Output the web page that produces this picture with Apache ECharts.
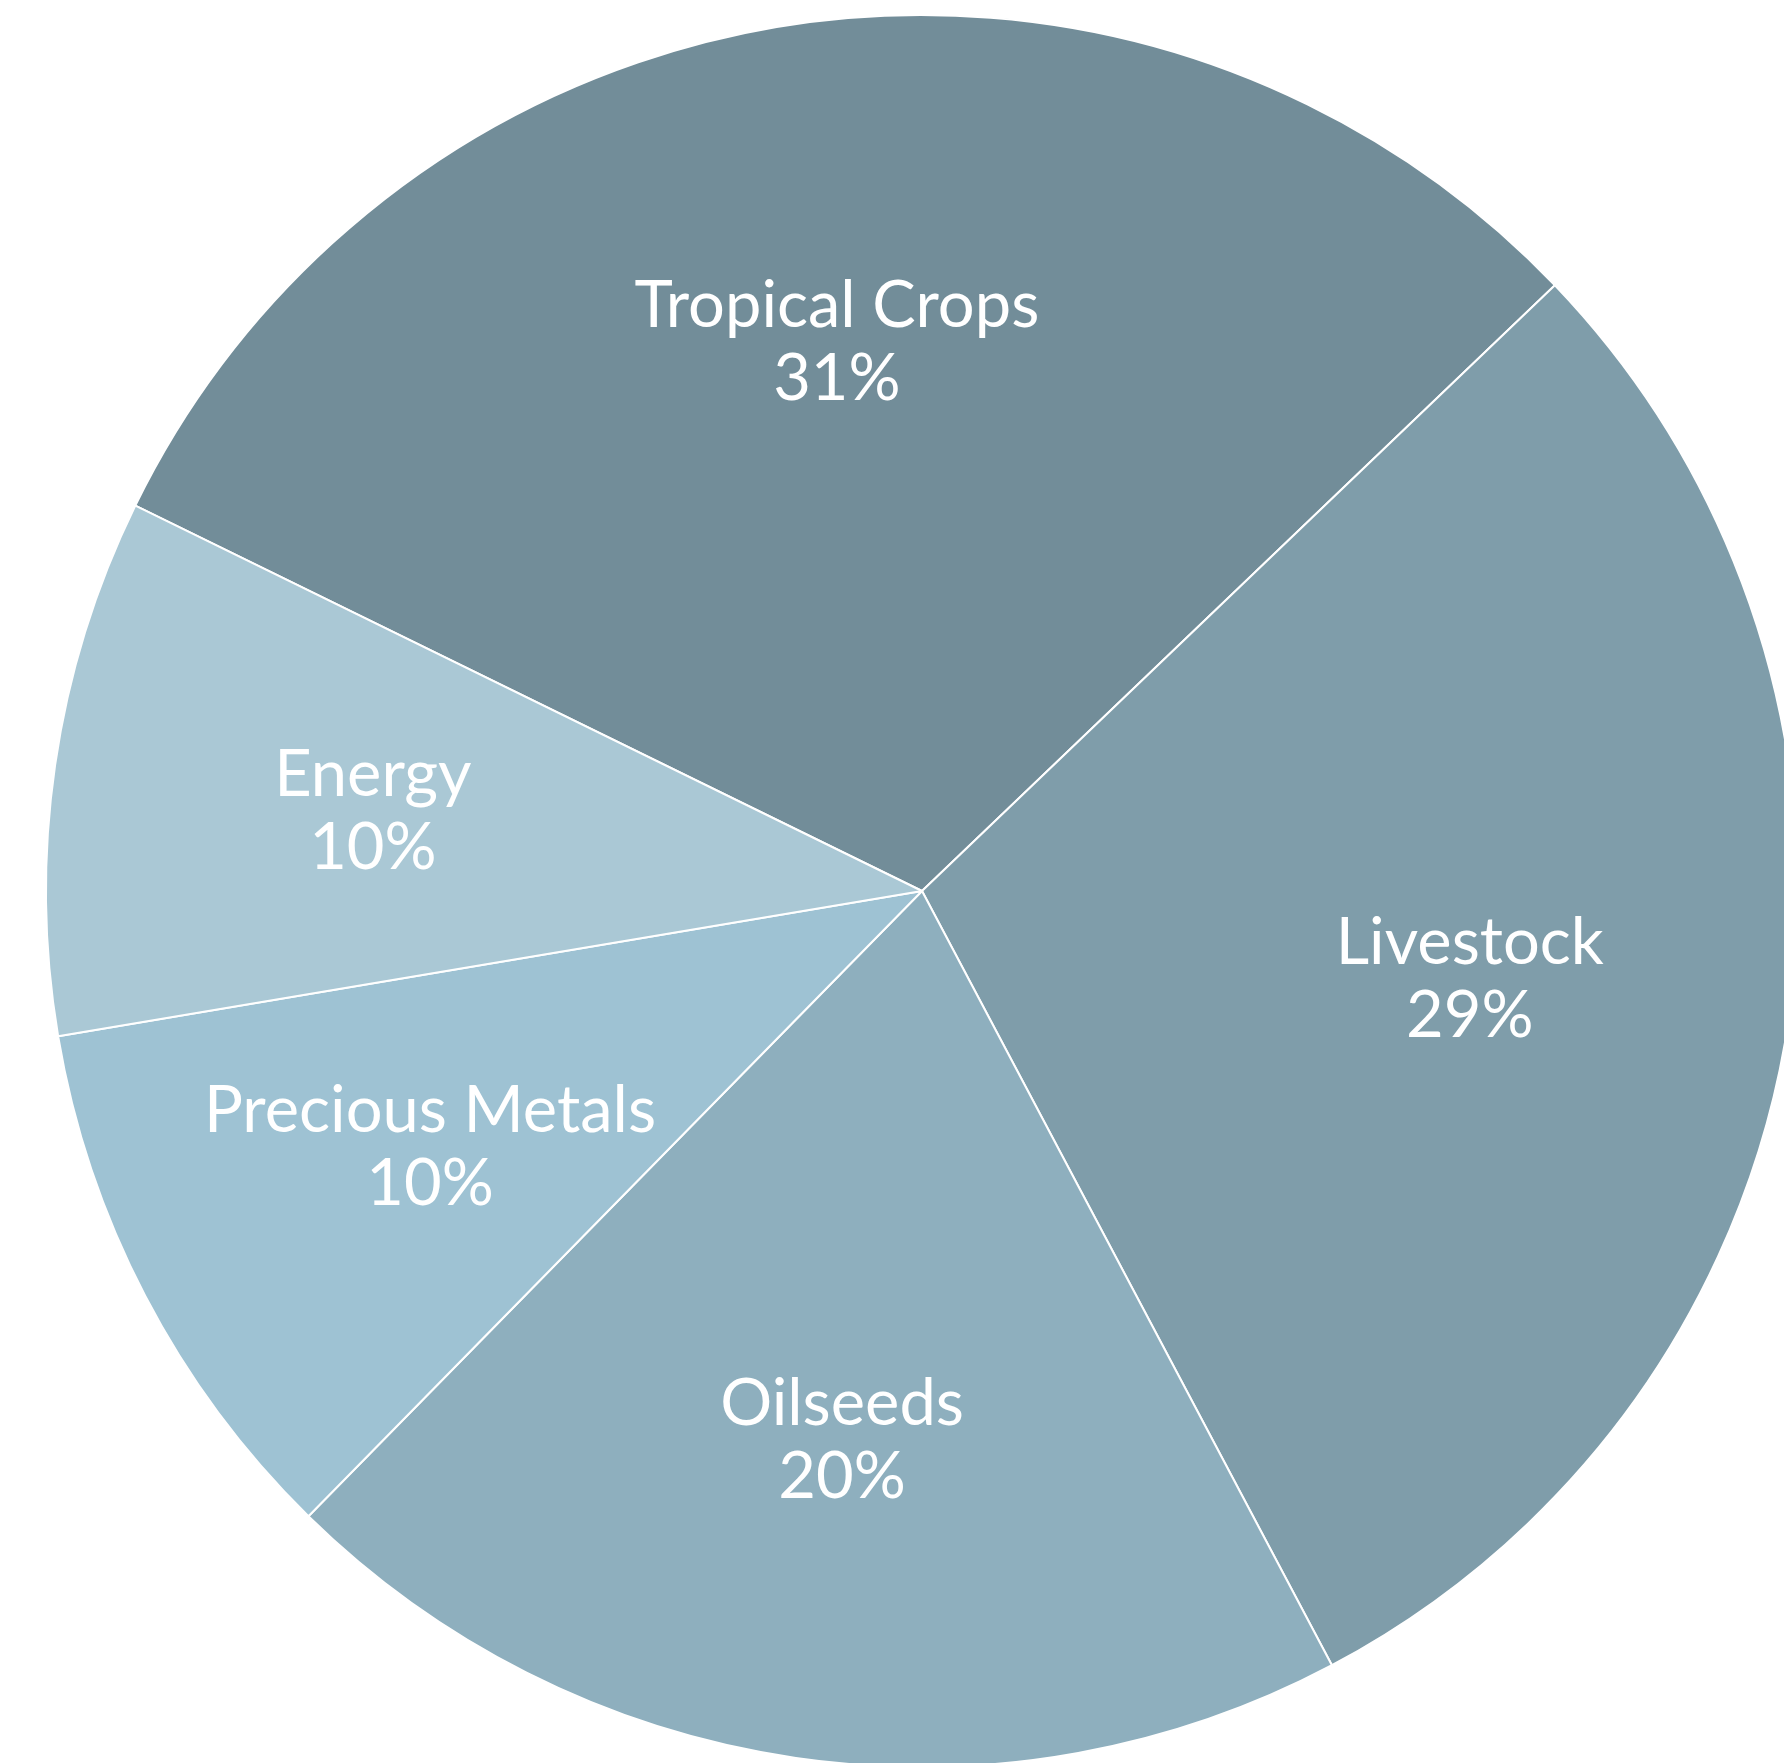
<!DOCTYPE html>
<html>
<head>
<meta charset="utf-8">
<script src="https://cdn.jsdelivr.net/npm/echarts@6/dist/echarts.min.js"></script>
<style>
html,body{margin:0;padding:0;background:#fff;}
#main{width:1784px;height:1763px;}
</style>
</head>
<body>
<div id="main"></div>
<script>
const categories = ['Tropical Crops', 'Livestock', 'Oilseeds', 'Precious Metals', 'Energy'];
const values = [30.6, 29.4, 20.1, 10.0, 9.9];
const colors = ['#728d99', '#7f9daa', '#8eafbe', '#9ec2d3', '#aac8d5'];

const data = categories.map((c, i) => ({ name: c, value: values[i], itemStyle: { color: colors[i] } }));
const labelData = categories.map((c, i) => ({ name: c, value: values[i] }));

const chart = echarts.init(document.getElementById('main'));
const center = [922, 891];
const R = 876;
chart.setOption({
  animation: false,
  backgroundColor: '#ffffff',
  series: [
    {
      type: 'pie',
      center: center,
      radius: [0, R],
      startAngle: 153.9,
      clockwise: true,
      data: data,
      label: { show: false },
      labelLine: { show: false },
      itemStyle: { borderColor: '#ffffff', borderWidth: 2 },
      silent: true
    },
    {
      type: 'pie',
      center: center,
      radius: [R * 0.26, R],
      startAngle: 153.9,
      clockwise: true,
      data: labelData,
      itemStyle: { color: 'rgba(0,0,0,0)', borderWidth: 0 },
      silent: true,
      label: {
        show: true,
        position: 'inside',
        color: '#ffffff',
        fontFamily: 'Lato',
        fontSize: 65,
        lineHeight: 73,
        align: 'center',
        formatter: function (p) { return p.name + '\n' + Math.round(p.percent) + '%'; }
      },
      labelLine: { show: false }
    }
  ]
});
</script>
</body>
</html>
